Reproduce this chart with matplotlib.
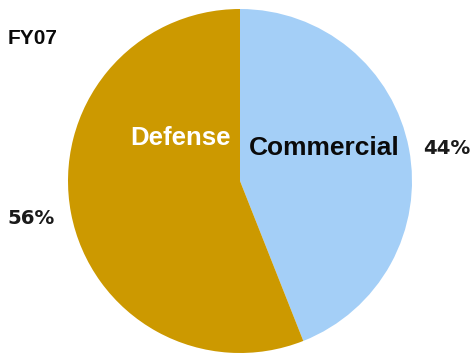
import matplotlib.pyplot as plt

# data
segments = ['Commercial', 'Defense']
shares = [44, 56]
share_labels = ['44%', '56%']
seg_colors = ['#a4cff7', '#cc9900']
title = 'FY07'

W, H = 475, 356
fig = plt.figure(figsize=(W / 100, H / 100), dpi=100)
ax = fig.add_axes([0, 0, 1, 1])

# pie in pixel coords (y measured from bottom)
ax.pie(shares, colors=seg_colors, startangle=90, counterclock=False,
       center=(240, H - 181), radius=172, frame=True,
       wedgeprops=dict(linewidth=0))
ax.set_xlim(0, W)
ax.set_ylim(0, H)
ax.set_aspect('equal')
ax.axis('off')

sans = ['Liberation Sans', 'DejaVu Sans']
ax.text(324, H - 148, segments[0], fontsize=19, fontweight='bold',
        family=sans, color='#0a0a0a', ha='center', va='center')
ax.text(180, H - 138, segments[1], fontsize=18.5, fontweight='bold',
        family=sans, color='white', ha='center', va='center')
ax.text(447, H - 148, share_labels[0], fontsize=14.2, fontweight='bold',
        family='DejaVu Sans', color='#1a1a1a', ha='center', va='center')
ax.text(31, H - 218, share_labels[1], fontsize=14.2, fontweight='bold',
        family='DejaVu Sans', color='#1a1a1a', ha='center', va='center')
ax.text(8, H - 39, title, fontsize=15, fontweight='bold',
        family=sans, color='#0a0a0a', ha='left', va='center')

fig.savefig('out.png', dpi=100)
